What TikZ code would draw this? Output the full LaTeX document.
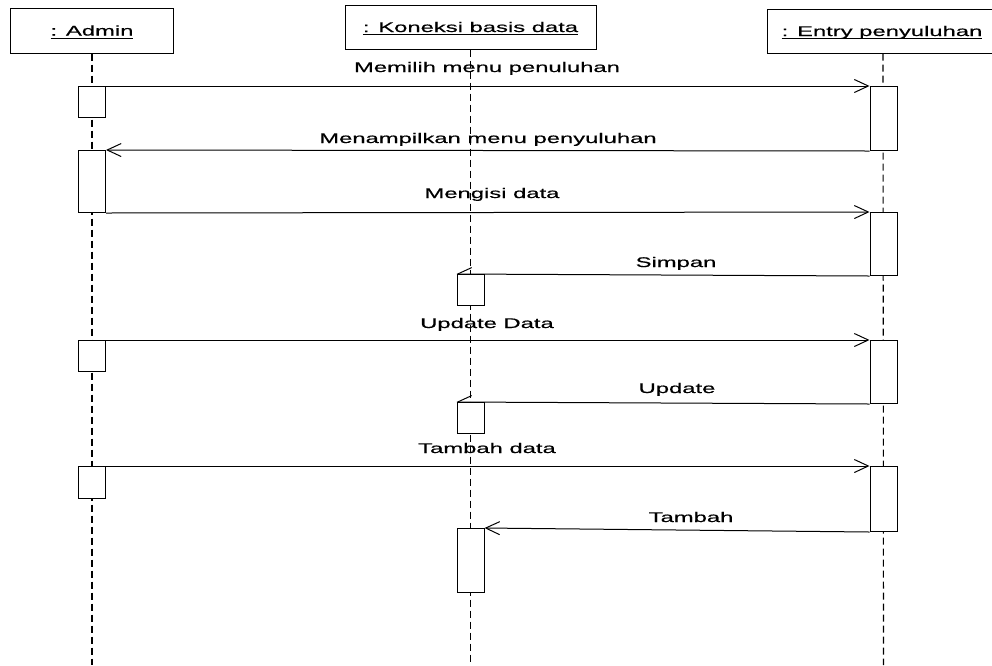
\documentclass[tikz,border=0pt]{standalone}
\usepackage{fontspec}
\setmainfont[FakeStretch=1.7,FakeBold=0.4]{Liberation Sans}
\usetikzlibrary{arrows.meta,backgrounds}

% underline that runs straight through descenders, like the object names
\newcommand\objname[1]{\setbox0\hbox{#1}\rlap{\rule[-2.8pt]{\wd0}{0.8pt}}\box0}

\tikzset{
  every node/.style={font=\fontsize{14}{16}\selectfont},
  objbox/.style={draw, line width=1pt, fill=white, inner sep=0pt,
                 text height=10pt, text depth=0pt},
  actbox/.style={draw, line width=1pt, fill=white, inner sep=0pt, anchor=north,
                 minimum width=27pt, minimum height=#1},
  lifeline/.style={line width=1.1pt, dash pattern=on 7pt off 4pt},
  msg/.style={line width=1pt, -{Straight Barb[length=14pt,width=13pt]}},
  msglabel/.style={anchor=base, inner sep=0pt},
}

\begin{document}
\begin{tikzpicture}[x=1pt, y=-1pt]
  \useasboundingbox (0,0) rectangle (992,665);

  % objects
  \node[objbox, minimum width=163pt, minimum height=45pt] (admin) at (92,30.5) {\objname{: Admin}};
  \node[objbox, minimum width=251pt, minimum height=44pt] (db) at (470.5,27) {\objname{: Koneksi basis data}};
  \node[objbox, minimum width=232pt, minimum height=44pt] (entrybox) at (883,31) {};
  \node[msglabel] (entry) at (882,36) {\objname{: Entry penyuluhan}};

  \coordinate (adminEnd) at (92,665);
  \coordinate (dbEnd) at (470.5,665);
  \coordinate (entryEnd) at (883.5,665);

  % activations of Admin
  \node[actbox=31pt] (a1) at (92,86) {};
  \node[actbox=62pt] (a2) at (92,150) {};
  \node[actbox=31pt] (a3) at (92,340) {};
  \node[actbox=32pt] (a4) at (92,466) {};

  % activations of Entry penyuluhan
  \node[actbox=64pt] (e1) at (883.5,86) {};
  \node[actbox=63pt] (e2) at (883.5,212) {};
  \node[actbox=63pt] (e3) at (883.5,340) {};
  \node[actbox=65pt] (e4) at (883.5,466) {};

  % activations of Koneksi basis data
  \node[actbox=31pt] (k1) at (470.5,274) {};
  \node[actbox=31pt] (k2) at (470.5,402) {};
  \node[actbox=64pt] (k3) at (470.5,528) {};

  \begin{pgfonlayer}{background}
    % lifelines
    \draw[lifeline] (admin.south) -- (adminEnd);
    \draw[lifeline] (db.south) -- (dbEnd);
    \draw[lifeline] (entrybox.south) -- (entryEnd);

    % messages
    \draw[msg] (a1.north east) -- (e1.north west);
    \draw[msg] (e1.south west) -- (a2.north east);
    \draw[msg] (a2.south east) -- (e2.north west);
    \draw[msg] (e2.south west) -- (k1.north west);
    \draw[msg] (a3.north east) -- (e3.north west);
    \draw[msg] (e3.south west) -- (k2.north west);
    \draw[msg] (a4.north east) -- (e4.north west);
    \draw[msg] (e4.south west) -- (k3.north east);
  \end{pgfonlayer}

  % message labels
  \node[msglabel] (m1) at (487,72) {Memilih menu penuluhan};
  \node[msglabel] (m2) at (488,143) {Menampilkan menu penyuluhan};
  \node[msglabel] (m3) at (492,198) {Mengisi data};
  \node[msglabel] (m4) at (676,267) {Simpan};
  \node[msglabel] (m5) at (487,328) {Update Data};
  \node[msglabel] (m6) at (677,393) {Update};
  \node[msglabel] (m7) at (487,453) {Tambah data};
  \node[msglabel] (m8) at (691,522) {Tambah};
\end{tikzpicture}
\end{document}
